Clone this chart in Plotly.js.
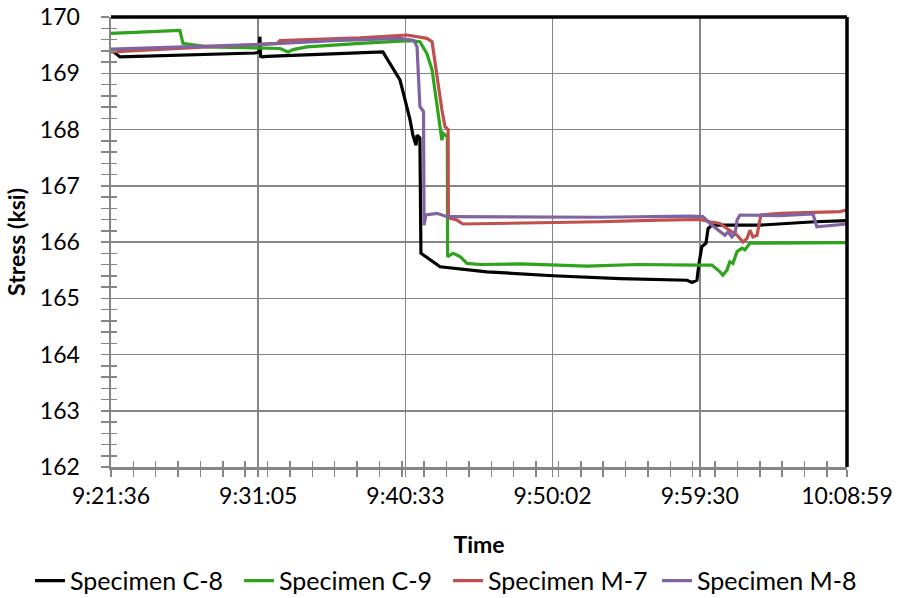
<!DOCTYPE html>
<html>
<head>
<meta charset="utf-8">
<script src="https://cdn.plot.ly/plotly-3.0.1.min.js"></script>
<style>
  html, body { margin: 0; padding: 0; background: #fff; }
  #chart { width: 914px; height: 598px; }
</style>
</head>
<body>
<div id="chart"></div>
<script>
// Stress readings (ksi) against clock time for four specimens.
const c8Time = ['9:21:36','9:22:11','9:30:52','9:31:08','9:31:11','9:31:14','9:31:20','9:31:38','9:39:06','9:39:33','9:40:12','9:40:24','9:40:51','9:41:02','9:41:14','9:41:18','9:41:29','9:41:33','9:42:47','9:45:48','9:50:03','9:54:22','9:58:41','9:59:00','9:59:19','9:59:27','9:59:38','9:59:54','10:00:02','10:00:17','10:03:22','10:06:55','10:08:58'];
const c8Stress = [169.42,169.29,169.36,169.37,169.65,169.30,169.29,169.30,169.38,169.18,168.88,168.67,168.17,167.90,167.72,167.90,167.85,165.80,165.56,165.47,165.40,165.35,165.32,165.28,165.32,165.62,165.92,165.98,166.24,166.30,166.30,166.36,166.38];

const c9Time = ['9:21:36','9:26:02','9:26:14','9:27:47','9:32:29','9:33:00','9:33:19','9:34:13','9:37:38','9:40:51','9:41:29','9:41:56','9:42:16','9:42:35','9:42:54','9:42:59','9:43:15','9:43:16','9:43:37','9:44:04','9:44:31','9:45:21','9:47:56','9:52:14','9:55:27','9:59:19','10:00:17','10:00:48','10:00:59','10:01:15','10:01:26','10:01:38','10:01:54','10:02:13','10:02:24','10:02:44','10:08:58'];
const c9Stress = [169.71,169.76,169.53,169.47,169.44,169.38,169.42,169.47,169.53,169.58,169.56,169.35,169.06,168.47,167.81,167.93,167.87,165.74,165.80,165.74,165.62,165.60,165.61,165.57,165.60,165.59,165.59,165.47,165.41,165.50,165.65,165.62,165.83,165.89,165.86,165.98,165.99];

const m7Time = ['9:21:36','9:27:58','9:32:17','9:32:29','9:37:38','9:40:39','9:41:56','9:42:16','9:42:35','9:42:54','9:43:06','9:43:18','9:43:19','9:43:52','9:44:15','9:46:38','9:53:05','9:56:56','9:59:31','10:00:09','10:00:48','10:01:15','10:01:54','10:02:17','10:02:32','10:02:44','10:02:55','10:03:11','10:03:19','10:03:26','10:04:40','10:08:31','10:08:58'];
const m7Stress = [169.38,169.47,169.53,169.58,169.63,169.68,169.62,169.56,168.94,168.35,168.05,168.00,166.43,166.39,166.32,166.33,166.36,166.39,166.40,166.36,166.33,166.24,166.12,166.00,166.06,166.21,166.09,166.12,166.33,166.48,166.51,166.54,166.57];

const m8Time = ['9:21:36','9:31:00','9:35:53','9:40:12','9:40:58','9:41:06','9:41:18','9:41:29','9:41:43','9:41:45','9:41:52','9:42:35','9:43:14','9:46:38','9:53:05','9:58:52','9:59:42','10:00:09','10:00:36','10:01:07','10:01:19','10:01:34','10:01:46','10:01:54','10:02:05','10:04:40','10:06:47','10:07:02','10:08:58'];
const m8Stress = [169.43,169.51,169.58,169.62,169.59,169.58,169.47,168.41,168.32,166.30,166.48,166.51,166.45,166.45,166.44,166.46,166.45,166.33,166.24,166.12,166.18,166.09,166.15,166.39,166.48,166.47,166.50,166.27,166.32];

const seriesNames = ['Specimen C-8','Specimen C-9','Specimen M-7','Specimen M-8'];
const xTickLabels = ['9:21:36','9:31:05','9:40:33','9:50:02','9:59:30','10:08:59'];
const yTickValues = [162,163,164,165,166,167,168,169,170];

// Time axis runs in fractions of a day.
const dayStart = 0.39, dayEnd = 0.4229;

function toDay(t) {
  const p = t.split(':').map(Number);
  return (p[0] * 3600 + p[1] * 60 + p[2]) / 86400;
}

const colors = ['#000000', '#2EA31C', '#C0504D', '#8064A2'];
const times = [c8Time, c9Time, m7Time, m8Time];
const stresses = [c8Stress, c9Stress, m7Stress, m8Stress];

const traces = seriesNames.map((name, i) => ({
  type: 'scatter',
  mode: 'lines',
  name: name,
  x: times[i].map(toDay),
  y: stresses[i],
  line: { color: colors[i], width: 3.2 },
  hoverinfo: 'skip'
}));

// Empty trace that carries the inner half of the crossing tick marks.
traces.push({ type: 'scatter', mode: 'lines', x: [], y: [], xaxis: 'x2', yaxis: 'y2', showlegend: false, hoverinfo: 'skip' });

const step = (dayEnd - dayStart) / (xTickLabels.length - 1);
const xTickValues = xTickLabels.map((_, i) => dayStart + i * step);

const font = { family: 'Lato, "Open Sans", sans-serif', size: 23, color: '#000' };
const legendFont = { family: 'Lato, "Open Sans", sans-serif', size: 25, color: '#000' };
const axisGray = '#868686';

const layout = {
  width: 914, height: 598,
  margin: { l: 111, r: 67, t: 17, b: 131, autoexpand: false },
  paper_bgcolor: '#fff', plot_bgcolor: '#fff',
  font: font,
  showlegend: true,
  legend: {
    orientation: 'h', xref: 'paper', yref: 'paper',
    x: -0.11, xanchor: 'left', y: -0.253, yanchor: 'middle',
    font: legendFont, traceorder: 'normal', entrywidth: 164, itemwidth: 30
  },
  xaxis: {
    range: [dayStart, dayEnd], tickmode: 'array', tickvals: xTickValues, ticktext: xTickLabels,
    showgrid: true, gridcolor: axisGray, gridwidth: 1.5,
    showline: true, linecolor: axisGray, linewidth: 2.5,
    ticks: 'outside', ticklen: 7, tickwidth: 1.5, tickcolor: axisGray,
    minor: { tickmode: 'linear', tick0: dayStart, dtick: 0.001, ticks: 'outside', ticklen: 7, tickwidth: 1.5, tickcolor: axisGray, showgrid: false },
    ticklabelstandoff: 0,
    zeroline: false,
    title: { text: '<b>Time</b>', font: font, standoff: 29 }
  },
  yaxis: {
    range: [162, 170], tickmode: 'array', tickvals: yTickValues,
    showgrid: true, gridcolor: axisGray, gridwidth: 1.5,
    showline: true, linecolor: axisGray, linewidth: 2.5,
    ticks: 'outside', ticklen: 8, tickwidth: 1.5, tickcolor: axisGray,
    minor: { tickmode: 'linear', tick0: 162, dtick: 0.2, ticks: 'outside', ticklen: 8, tickwidth: 1.5, tickcolor: axisGray, showgrid: false },
    ticklabelstandoff: 16,
    zeroline: false,
    title: { text: '<b>Stress (ksi)</b>', font: font, standoff: 8 }
  },
  xaxis2: {
    overlaying: 'x', anchor: 'y', side: 'bottom', range: [dayStart, dayEnd],
    tickmode: 'array', tickvals: xTickValues, showticklabels: false, showgrid: false, showline: false, zeroline: false,
    ticks: 'inside', ticklen: 6, tickwidth: 1.5, tickcolor: axisGray,
    minor: { tickmode: 'linear', tick0: dayStart, dtick: 0.001, ticks: 'inside', ticklen: 6, tickwidth: 1.5, tickcolor: axisGray, showgrid: false }
  },
  yaxis2: {
    overlaying: 'y', anchor: 'x', side: 'left', range: [162, 170],
    tickmode: 'array', tickvals: yTickValues, showticklabels: false, showgrid: false, showline: false, zeroline: false,
    ticks: 'inside', ticklen: 6, tickwidth: 1.5, tickcolor: axisGray,
    minor: { tickmode: 'linear', tick0: 162, dtick: 0.2, ticks: 'inside', ticklen: 6, tickwidth: 1.5, tickcolor: axisGray, showgrid: false }
  },
  shapes: [
    // Dark frame along the top and right of the plot area.
    { type: 'line', xref: 'paper', yref: 'paper', x0: 0, x1: 1, y0: 1, y1: 1, line: { color: '#000', width: 3.5 }, layer: 'above' },
    { type: 'line', xref: 'paper', yref: 'paper', x0: 1, x1: 1, y0: 0, y1: 1, line: { color: '#000', width: 3.5 }, layer: 'above' }
  ]
};

Plotly.newPlot('chart', traces, layout, { displayModeBar: false, staticPlot: true });
</script>
</body>
</html>
